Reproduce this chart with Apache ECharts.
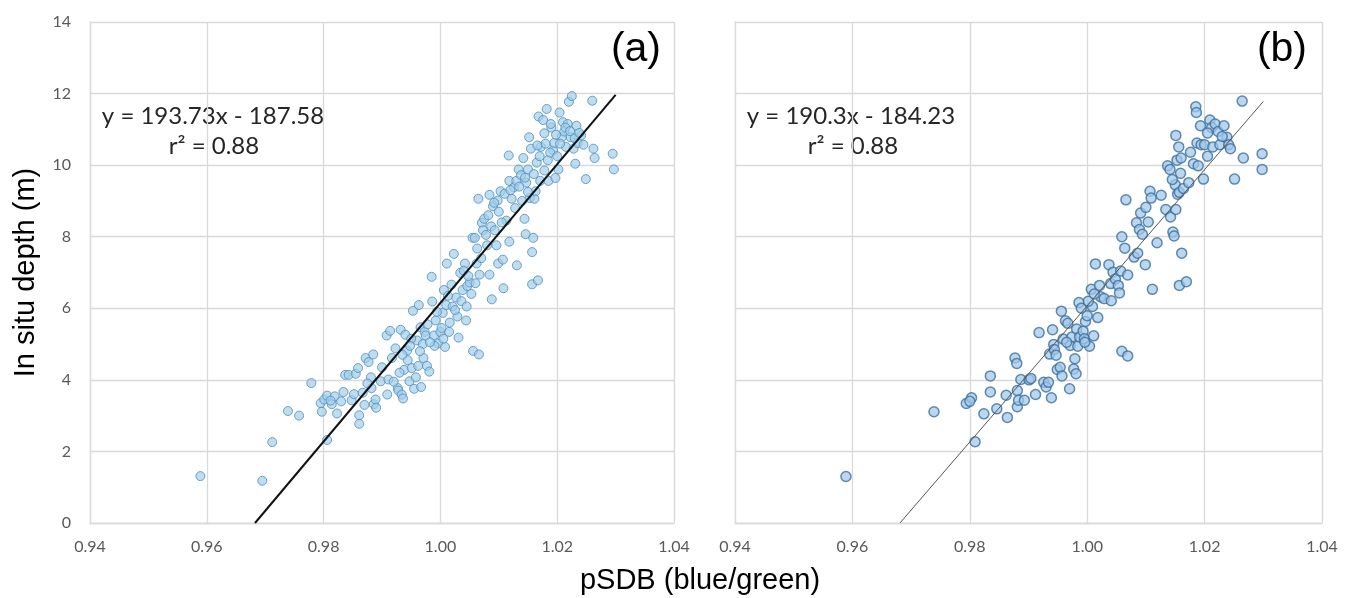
<!DOCTYPE html>
<html>
<head>
<meta charset="utf-8">
<script src="https://cdn.jsdelivr.net/npm/echarts@6/dist/echarts.min.js"></script>
<style>
  html, body { margin: 0; padding: 0; background: #fff; }
  #chart { width: 1355px; height: 598px; }
</style>
</head>
<body>
<div id="chart"></div>
<script>
// pSDB (blue/green) ratio vs. in situ depth, panel (a): all samples
const pointsA = [
  [0.9589,1.31],[0.9695,1.18],[0.9712,2.26],[0.9739,3.13],[0.9758,3.00],[0.9779,3.91],
  [0.9795,3.35],[0.9797,3.11],[0.9801,3.45],[0.9806,3.56],[0.9806,2.32],[0.9814,3.32],
  [0.9819,3.54],[0.9823,3.06],[0.9834,3.66],[0.9837,4.14],[0.9843,4.14],[0.9848,3.43],
  [0.9855,4.17],[0.9859,4.33],[0.9861,3.01],[0.9861,2.77],[0.9867,3.64],[0.9872,4.61],
  [0.9877,4.50],[0.9881,4.07],[0.9882,3.77],[0.9885,4.71],[0.9886,3.32],[0.9889,3.45],
  [0.9890,3.22],[0.9898,3.96],[0.9908,5.24],[0.9909,3.59],[0.9911,4.01],[0.9914,5.37],
  [0.9917,4.61],[0.9923,4.88],[0.9927,3.77],[0.9928,3.70],[0.9932,5.40],[0.9934,3.59],
  [0.9936,3.48],[0.9938,4.28],[0.9940,5.26],[0.9943,4.82],[0.9947,3.96],[0.9951,4.33],
  [0.9953,5.93],[0.9955,3.75],[0.9958,4.07],[0.9962,4.39],[0.9963,6.09],[0.9966,5.47],
  [0.9967,3.80],[0.9971,4.61],[0.9973,5.34],[0.9975,5.24],[0.9977,4.39],[0.9981,4.23],
  [0.9985,6.88],[0.9986,6.19],[0.9989,5.24],[0.9992,5.66],[0.9996,5.02],[1.0000,5.34],
  [1.0004,5.87],[1.0006,6.51],[1.0008,4.92],[1.0010,6.09],[1.0011,7.25],[1.0015,5.34],
  [1.0019,6.66],[1.0023,7.52],[1.0027,6.30],[1.0029,5.77],[1.0031,5.18],[1.0034,6.99],
  [1.0038,6.51],[1.0042,7.25],[1.0044,5.66],[1.0046,6.62],[1.0050,6.72],[1.0053,6.40],
  [1.0055,7.97],[1.0056,4.81],[1.0059,7.97],[1.0062,7.25],[1.0063,7.67],[1.0065,9.06],
  [1.0066,4.71],[1.0067,6.94],[1.0071,8.39],[1.0073,8.18],[1.0075,8.50],[1.0080,7.76],
  [1.0084,6.94],[1.0084,9.17],[1.0087,8.29],[1.0088,6.25],[1.0090,8.85],[1.0093,8.18],
  [1.0096,7.76],[1.0098,9.01],[1.0099,7.25],[1.0103,9.27],[1.0107,7.36],[1.0108,6.56],
  [1.0113,8.45],[1.0117,10.27],[1.0118,7.86],[1.0118,9.56],[1.0122,9.06],[1.0126,9.38],
  [1.0130,9.56],[1.0131,7.20],[1.0134,9.88],[1.0138,9.72],[1.0142,10.20],[1.0144,8.50],
  [1.0146,8.07],[1.0147,9.51],[1.0150,9.88],[1.0152,10.78],[1.0153,9.08],[1.0155,10.46],
  [1.0157,7.57],[1.0157,6.67],[1.0159,7.97],[1.0161,9.06],[1.0163,9.27],[1.0165,10.07],
  [1.0167,6.78],[1.0168,11.36],[1.0171,9.56],[1.0172,10.51],[1.0176,11.26],[1.0178,10.89],
  [1.0182,11.57],[1.0184,10.14],[1.0185,9.56],[1.0190,11.05],[1.0193,10.41],[1.0195,10.62],
  [1.0197,9.64],[1.0202,9.88],[1.0204,11.47],[1.0208,10.78],[1.0210,11.20],[1.0212,10.94],
  [1.0215,10.51],[1.0218,11.15],[1.0220,11.77],[1.0223,10.78],[1.0225,11.93],[1.0228,10.46],
  [1.0231,10.04],[1.0233,11.10],[1.0235,10.62],[1.0241,10.83],[1.0245,10.57],[1.0249,9.61],
  [1.0260,11.80],[1.0262,10.46],[1.0264,10.20],[1.0295,10.32],[1.0297,9.88],
  // denser parts of the cloud
  [0.9960,5.10],[0.9978,5.55],[0.9994,5.90],[1.0002,5.45],[1.0013,6.35],[1.0021,6.05],
  [1.0036,6.20],[1.0040,7.05],[1.0048,6.90],[0.9990,4.95],[0.9970,5.00],[0.9950,5.15],
  [0.9944,4.55],[0.9930,4.20],[0.9920,3.95],[1.0078,8.05],[1.0082,8.60],[1.0092,8.95],
  [1.0100,8.70],[1.0110,9.20],[1.0120,9.30],[1.0135,9.40],[1.0140,9.00],[1.0150,9.25],
  [1.0160,9.75],[1.0170,10.25],[1.0180,10.60],[1.0188,10.35],[1.0198,10.85],[1.0205,10.60],
  [1.0214,11.05],[1.0222,10.95],[1.0230,10.75],[1.0238,10.90],[1.0200,10.25],[1.0189,11.15],
  [1.0178,9.85],[1.0166,10.55],[1.0145,9.65],[1.0128,8.80],[1.0105,8.40],[1.0070,7.40],
  [1.0060,6.70],[1.0045,6.05],[1.0025,5.95],[1.0016,5.60],[1.0005,5.15],[0.9982,5.05],
  [0.9965,4.80],[0.9948,4.95],[0.9935,4.70],[0.9900,4.35],[0.9875,3.90],[0.9852,3.60],
  [0.9830,3.40],[0.9812,3.42],[0.9870,3.30]
];

// panel (b): subset of samples
const pointsB = [
  [0.9589,1.30],[0.9739,3.11],[0.9809,2.27],[0.9794,3.34],[0.9803,3.50],[0.9800,3.40],
  [0.9824,3.05],[0.9835,4.11],[0.9835,3.66],[0.9846,3.19],[0.9862,3.57],[0.9864,2.95],
  [0.9877,4.61],[0.9880,4.46],[0.9881,3.70],[0.9881,3.25],[0.9883,3.43],[0.9887,4.01],
  [0.9893,3.43],[0.9901,4.00],[0.9904,4.04],[0.9912,3.59],[0.9918,5.32],[0.9926,3.93],
  [0.9930,3.80],[0.9934,3.93],[0.9936,4.72],[0.9939,3.50],[0.9941,5.40],[0.9943,4.99],
  [0.9944,4.85],[0.9947,4.69],[0.9949,4.29],[0.9954,4.35],[0.9956,5.92],[0.9957,4.11],
  [0.9959,5.14],[0.9963,5.65],[0.9967,5.58],[0.9970,3.75],[0.9971,4.96],[0.9974,5.20],
  [0.9977,4.30],[0.9979,4.59],[0.9981,4.17],[0.9982,5.42],[0.9984,4.94],[0.9986,6.16],
  [0.9987,5.20],[0.9990,6.00],[0.9993,5.36],[0.9995,5.15],[0.9997,5.63],[1.0000,5.79],
  [1.0004,4.94],[1.0007,6.53],[1.0009,6.05],[1.0011,5.23],[1.0014,7.24],[1.0018,5.74],
  [1.0021,6.64],[1.0023,6.32],[1.0029,6.27],[1.0037,7.22],[1.0040,6.69],[1.0041,6.21],
  [1.0044,7.01],[1.0048,6.82],[1.0053,6.64],[1.0055,6.43],[1.0057,7.04],[1.0059,8.00],
  [1.0059,4.80],[1.0064,7.68],[1.0066,9.03],[1.0069,6.93],[1.0069,4.67],[1.0080,7.43],
  [1.0084,8.39],[1.0086,7.54],[1.0089,8.20],[1.0091,8.66],[1.0094,8.07],[1.0099,7.22],
  [1.0100,8.82],[1.0104,8.41],[1.0107,9.27],[1.0109,9.08],[1.0111,6.53],[1.0119,7.83],
  [1.0126,9.16],[1.0134,8.76],[1.0137,9.98],[1.0141,9.88],[1.0142,8.55],[1.0146,8.13],
  [1.0148,8.02],[1.0150,9.45],[1.0151,8.76],[1.0151,10.83],[1.0153,10.14],[1.0154,9.19],
  [1.0156,10.51],[1.0157,9.24],[1.0157,6.64],[1.0159,9.77],[1.0161,7.54],[1.0164,9.35],
  [1.0169,6.74],[1.0173,9.51],[1.0176,10.36],[1.0181,10.04],[1.0185,11.63],[1.0186,11.47],
  [1.0187,10.62],[1.0189,9.98],[1.0193,11.10],[1.0194,10.57],[1.0198,9.61],[1.0200,10.57],
  [1.0205,10.25],[1.0209,11.26],[1.0212,11.05],[1.0214,10.51],[1.0218,11.15],[1.0223,10.94],
  [1.0226,10.57],[1.0233,11.10],[1.0238,10.78],[1.0241,10.57],[1.0244,10.46],[1.0251,9.61],
  [1.0264,11.79],[1.0266,10.20],[1.0298,10.32],[1.0298,9.88],
  [0.9996,5.05],[1.0002,6.20],[1.0012,6.40],[0.9965,5.05],[1.0145,9.60],[1.0160,10.20],
  [1.0205,10.90],[1.0230,10.80]
];

// Linear fits printed on each panel: [slope, intercept, r²]
const fitA = [193.73, -187.58, 0.88];
const fitB = [190.3, -184.23, 0.88];
const fitXmax = [1.03, 1.03];

const xTicks = [0.94, 0.96, 0.98, 1.00, 1.02, 1.04];
const yTicks = [0, 2, 4, 6, 8, 10, 12, 14];

function fitLine(fit, xMax) {
  const x0 = -fit[1] / fit[0];
  return [[x0, 0], [xMax, fit[0] * xMax + fit[1]]];
}
function fmtNum(v) { return (Math.round(v * 100) / 100).toString(); }
function eqText(fit) {
  return 'y = ' + fmtNum(fit[0]) + 'x - ' + fmtNum(-fit[1]);
}

const chart = echarts.init(document.getElementById('chart'), null, { renderer: 'canvas' });

const tickFont = { color: '#595959', fontSize: 16, fontFamily: 'Lato' };
const gridLine = { lineStyle: { color: '#d9d9d9', width: 1.3 } };
const noteFont = { fontSize: 24, fill: '#262626', fontFamily: 'Lato', align: 'center', verticalAlign: 'middle' };

function xAxisCfg(idx) {
  return {
    type: 'value', gridIndex: idx,
    min: xTicks[0], max: xTicks[xTicks.length - 1], interval: 0.02,
    axisLine: { show: true, lineStyle: { color: '#d9d9d9', width: 1.3 } },
    axisTick: { show: false },
    splitLine: Object.assign({ show: true }, gridLine),
    axisLabel: Object.assign({ margin: 16, formatter: v => v.toFixed(2) }, tickFont)
  };
}
function yAxisCfg(idx, showLabels) {
  return {
    type: 'value', gridIndex: idx,
    min: yTicks[0], max: yTicks[yTicks.length - 1], interval: 2,
    axisLine: { show: true, lineStyle: { color: '#d9d9d9', width: 1.3 } },
    axisTick: { show: false },
    splitLine: Object.assign({ show: true }, gridLine),
    axisLabel: Object.assign({ show: showLabels, margin: 19 }, tickFont),
    name: showLabels ? 'In situ depth (m)' : '',
    nameLocation: 'middle', nameGap: 50,
    nameTextStyle: { fontSize: 29, color: '#000', fontFamily: 'Liberation Sans' }
  };
}

const option = {
  animation: false,
  backgroundColor: '#fff',
  grid: [
    { left: 90, right: 681, top: 22, bottom: 75 },
    { left: 735, right: 33, top: 22, bottom: 75 }
  ],
  xAxis: [xAxisCfg(0), xAxisCfg(1)],
  yAxis: [yAxisCfg(0, true), yAxisCfg(1, false)],
  series: [
    {
      type: 'scatter', xAxisIndex: 0, yAxisIndex: 0, data: pointsA,
      symbolSize: 9,
      itemStyle: { color: 'rgba(160,205,235,0.85)', borderColor: '#4f8db8', borderWidth: 1 },
      z: 3
    },
    {
      type: 'line', xAxisIndex: 0, yAxisIndex: 0, data: fitLine(fitA, fitXmax[0]),
      symbol: 'none', lineStyle: { color: '#111', width: 2 }, z: 4
    },
    {
      type: 'scatter', xAxisIndex: 1, yAxisIndex: 1, data: pointsB,
      symbolSize: 10,
      itemStyle: { color: 'rgba(160,200,235,0.9)', borderColor: '#3d6f99', borderWidth: 1.5 },
      z: 3
    },
    {
      type: 'line', xAxisIndex: 1, yAxisIndex: 1, data: fitLine(fitB, fitXmax[1]),
      symbol: 'none', lineStyle: { color: '#555', width: 1 }, z: 4
    }
  ],
  graphic: [
    { type: 'text', x: 213, y: 116, style: Object.assign({ text: eqText(fitA) }, noteFont) },
    { type: 'text', x: 214, y: 146, style: Object.assign({ text: 'r² = ' + fitA[2].toFixed(2) }, noteFont) },
    { type: 'text', x: 851, y: 116, style: Object.assign({ text: eqText(fitB) }, noteFont) },
    { type: 'text', x: 853, y: 146, style: Object.assign({ text: 'r² = ' + fitB[2].toFixed(2) }, noteFont) },
    { type: 'text', x: 661, y: 50, style: { text: '(a)', fontSize: 41, fill: '#000', fontFamily: 'Liberation Sans', align: 'right', verticalAlign: 'middle' } },
    { type: 'text', x: 1307, y: 50, style: { text: '(b)', fontSize: 41, fill: '#000', fontFamily: 'Liberation Sans', align: 'right', verticalAlign: 'middle' } },
    { type: 'text', x: 700, y: 581, style: { text: 'pSDB (blue/green)', fontSize: 29, fill: '#000', fontFamily: 'Liberation Sans', align: 'center', verticalAlign: 'middle' } }
  ]
};

chart.setOption(option);
</script>
</body>
</html>
